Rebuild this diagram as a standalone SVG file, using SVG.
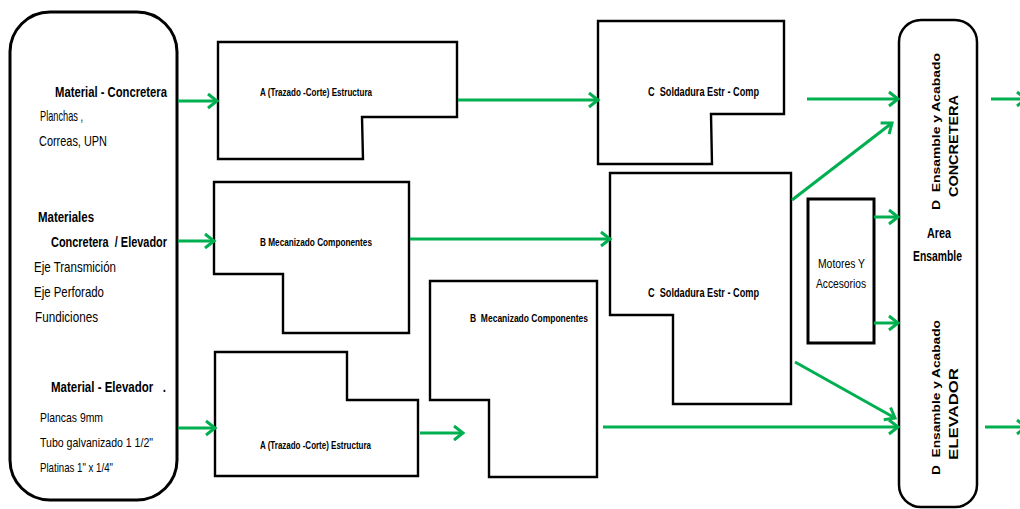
<svg xmlns="http://www.w3.org/2000/svg" width="1020" height="509" viewBox="0 0 1020 509">
<style>
.box{fill:#fff;stroke:#000;stroke-width:2.4;stroke-linejoin:miter}
.term{fill:#fff;stroke:#000;stroke-width:3}
.c{stroke:#00B050;stroke-width:3;fill:none;marker-end:url(#ah)}
.t{font-family:"Liberation Sans",Arial,sans-serif;fill:#000}
.b{font-weight:bold}
</style>
<defs>
<marker id="ah" markerUnits="userSpaceOnUse" markerWidth="16" markerHeight="18" viewBox="0 0 16 18" refX="13" refY="9" orient="auto">
<path d="M4,2 L13,9 L4,16" fill="none" stroke="#00B050" stroke-width="3"/>
</marker>
</defs>
<rect width="1020" height="509" fill="#fff"/>

<g id="materiales">
<rect class="term" x="10" y="12" width="167" height="488" rx="40" ry="40"/>
<text class="t b" x="55" y="97" font-size="15" textLength="112" lengthAdjust="spacingAndGlyphs">Material - Concretera</text>
<text class="t" x="40" y="121" font-size="15" textLength="43" lengthAdjust="spacingAndGlyphs">Planchas ,</text>
<text class="t" x="39" y="146" font-size="15" textLength="68" lengthAdjust="spacingAndGlyphs">Correas, UPN</text>
<text class="t b" x="38" y="222" font-size="15" textLength="56" lengthAdjust="spacingAndGlyphs">Materiales</text>
<text class="t b" x="51" y="247" font-size="15" textLength="116" lengthAdjust="spacingAndGlyphs" style="white-space:pre">Concretera  / Elevador</text>
<text class="t" x="34" y="272" font-size="15" textLength="82" lengthAdjust="spacingAndGlyphs">Eje Transmición</text>
<text class="t" x="34" y="297" font-size="15" textLength="70" lengthAdjust="spacingAndGlyphs">Eje Perforado</text>
<text class="t" x="35" y="322" font-size="15" textLength="63" lengthAdjust="spacingAndGlyphs">Fundiciones</text>
<text class="t b" x="51" y="392" font-size="15" textLength="115" lengthAdjust="spacingAndGlyphs" style="white-space:pre">Material - Elevador   .</text>
<text class="t" x="40" y="422" font-size="13" textLength="63" lengthAdjust="spacingAndGlyphs">Plancas 9mm</text>
<text class="t" x="40" y="447" font-size="13" textLength="113" lengthAdjust="spacingAndGlyphs">Tubo galvanizado 1 1/2"</text>
<text class="t" x="40" y="472" font-size="13" textLength="73" lengthAdjust="spacingAndGlyphs">Platinas 1" x 1/4"</text>
</g>

<g id="a-top">
<polygon class="box" points="218,42 457,42 457,117 362,117 363,159 218,159"/>
<text class="t b" x="260" y="96" font-size="11.5" textLength="112" lengthAdjust="spacingAndGlyphs">A (Trazado -Corte) Estructura</text>
</g>

<g id="b-top">
<polygon class="box" points="214,182 409,182 409,333 283,333 283,274 214,274"/>
<text class="t b" x="260" y="246" font-size="11.5" textLength="112" lengthAdjust="spacingAndGlyphs">B Mecanizado Componentes</text>
</g>

<g id="a-bottom">
<polygon class="box" points="215,352 347,352 347,400 418,400 418,476 215,476"/>
<text class="t b" x="260" y="449" font-size="11.5" textLength="111" lengthAdjust="spacingAndGlyphs">A (Trazado -Corte) Estructura</text>
</g>

<g id="b-bottom">
<polygon class="box" points="430,281 597,281 597,477 489,477 489,400 430,400"/>
<text class="t b" x="470" y="322" font-size="11.5" textLength="118" lengthAdjust="spacingAndGlyphs" style="white-space:pre">B  Mecanizado Componentes</text>
</g>

<g id="c-top">
<polygon class="box" points="598,21 784,21 784,114 711,114 712,164 598,164"/>
<text class="t b" x="648" y="96" font-size="12.5" textLength="111" lengthAdjust="spacingAndGlyphs" style="white-space:pre">C  Soldadura Estr - Comp</text>
</g>

<g id="c-middle">
<polygon class="box" points="610,173 791,173 791,404 673,404 673,315 610,315"/>
<text class="t b" x="648" y="297" font-size="12.5" textLength="111" lengthAdjust="spacingAndGlyphs" style="white-space:pre">C  Soldadura Estr - Comp</text>
</g>

<g id="motores">
<rect x="808" y="199" width="66" height="144" fill="#fff" stroke="#000" stroke-width="3"/>
<text class="t" x="818" y="268" font-size="13" textLength="47" lengthAdjust="spacingAndGlyphs">Motores Y</text>
<text class="t" x="816" y="288" font-size="13" textLength="50" lengthAdjust="spacingAndGlyphs">Accesorios</text>
</g>

<g id="area-ensamble">
<rect x="899" y="20" width="78" height="487" rx="22" ry="22" fill="#fff" stroke="#000" stroke-width="2.5"/>
<text class="t b" x="927" y="238" font-size="15" textLength="24" lengthAdjust="spacingAndGlyphs">Area</text>
<text class="t b" x="913" y="261" font-size="15" textLength="49" lengthAdjust="spacingAndGlyphs">Ensamble</text>
<text class="t b" transform="translate(940,210) rotate(-90)" font-size="10.5" textLength="157" lengthAdjust="spacingAndGlyphs" style="white-space:pre">D  Ensamble y Acabado</text>
<text class="t b" transform="translate(958,197) rotate(-90)" font-size="12.5" textLength="102" lengthAdjust="spacingAndGlyphs">CONCRETERA</text>
<text class="t b" transform="translate(940,475) rotate(-90)" font-size="10.5" textLength="155" lengthAdjust="spacingAndGlyphs" style="white-space:pre">D  Ensamble y Acabado</text>
<text class="t b" transform="translate(958,460) rotate(-90)" font-size="12.5" textLength="92" lengthAdjust="spacingAndGlyphs">ELEVADOR</text>
</g>

<g id="connectors">
<line class="c" x1="178" y1="101" x2="217" y2="101"/>
<line class="c" x1="458" y1="100" x2="598" y2="100"/>
<line class="c" x1="178" y1="241" x2="214" y2="241"/>
<line class="c" x1="410" y1="239" x2="610" y2="239"/>
<line class="c" x1="178" y1="428" x2="215" y2="428"/>
<line class="c" x1="420" y1="433" x2="463" y2="433"/>
<line class="c" x1="603" y1="427" x2="898" y2="427"/>
<line class="c" x1="807" y1="99" x2="898" y2="99"/>
<line class="c" x1="792" y1="200" x2="892" y2="123"/>
<line class="c" x1="874" y1="217" x2="898" y2="217"/>
<line class="c" x1="874" y1="323" x2="898" y2="323"/>
<line class="c" x1="795" y1="362" x2="895" y2="418"/>
<line class="c" x1="991" y1="99" x2="1026" y2="99"/>
<line class="c" x1="985" y1="427" x2="1026" y2="427"/>
</g>
</svg>
